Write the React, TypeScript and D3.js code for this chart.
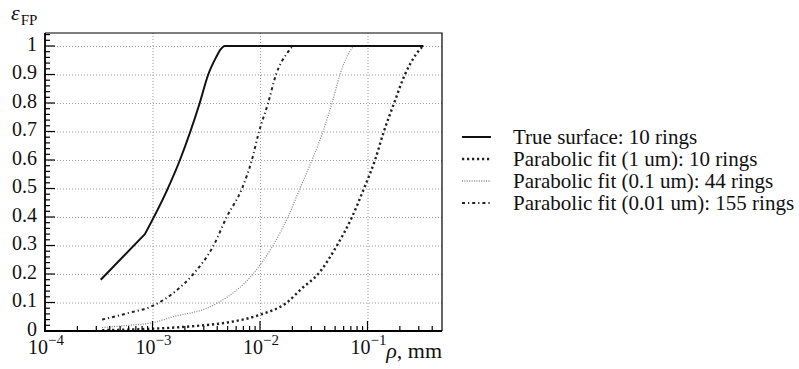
import { useEffect, useRef } from "react";
import * as d3 from "d3";

const WIDTH = 799;
const HEIGHT = 369;
const PLOT = { left: 45, right: 442, top: 33, bottom: 331 };
const FONT = "'Liberation Serif', 'Times New Roman', serif";

const Y_TICKS = [0, 0.1, 0.2, 0.3, 0.4, 0.5, 0.6, 0.7, 0.8, 0.9, 1];
const Y_TICK_LABELS = ["0", "0.1", "0.2", "0.3", "0.4", "0.5", "0.6", "0.7", "0.8", "0.9", "1"];
const X_DECADES = [1e-4, 1e-3, 1e-2, 1e-1];
const X_DECADE_EXP = ["−4", "−3", "−2", "−1"];

// True surface: 10 rings
const trueRho = [3.3e-4, 8.5e-4, 1.35e-3, 1.8e-3, 2.25e-3, 2.75e-3, 3.3e-3, 3.9e-3, 4.3e-3, 4.7e-3, 0.33];
const trueEps = [0.18, 0.34, 0.49, 0.6, 0.7, 0.8, 0.9, 0.96, 0.988, 1, 1];

// Parabolic fit (1 um): 10 rings
const fit1Rho = [3.4e-4, 1e-3, 2.77e-3, 5e-3, 1e-2, 1.78e-2, 2.46e-2, 3.47e-2, 5.2e-2, 7.18e-2, 9.27e-2, 0.1175, 0.142, 0.177, 0.223, 0.282, 0.328];
const fit1Eps = [0.003, 0.008, 0.019, 0.03, 0.057, 0.1, 0.15, 0.2, 0.3, 0.4, 0.5, 0.6, 0.7, 0.8, 0.9, 0.97, 1];

// Parabolic fit (0.1 um): 44 rings
const fit01Rho = [3.4e-4, 6e-4, 1e-3, 1.55e-3, 3.2e-3, 4.1e-3, 8.6e-3, 1.32e-2, 1.82e-2, 2.35e-2, 3.05e-2, 3.85e-2, 4.68e-2, 5.55e-2, 6.6e-2, 7.66e-2, 0.33];
const fit01Eps = [0.012, 0.02, 0.029, 0.05, 0.08, 0.1, 0.2, 0.3, 0.4, 0.5, 0.6, 0.7, 0.8, 0.9, 0.97, 1, 1];

// Parabolic fit (0.01 um): 155 rings
const fit001Rho = [3.4e-4, 5.8e-4, 1e-3, 1.62e-3, 2.4e-3, 3.7e-3, 4.9e-3, 6.8e-3, 8.4e-3, 9.8e-3, 1.19e-2, 1.41e-2, 1.75e-2, 2.1e-2, 0.33];
const fit001Eps = [0.04, 0.062, 0.088, 0.138, 0.2, 0.3, 0.4, 0.5, 0.6, 0.7, 0.8, 0.9, 0.97, 1, 1];

type Series = {
  label: string;
  rho: number[];
  eps: number[];
  stroke: string;
  width: number;
  dash: string | null;
  kink: number; // points up to this index are joined straight
};

const SERIES: Series[] = [
  { label: "Parabolic fit (0.1 um): 44 rings", rho: fit01Rho, eps: fit01Eps, stroke: "#8a8a8a", width: 1.3, dash: "1 1.4", kink: 0 },
  { label: "Parabolic fit (0.01 um): 155 rings", rho: fit001Rho, eps: fit001Eps, stroke: "#222", width: 2, dash: "3 3 1.2 3", kink: 0 },
  { label: "Parabolic fit (1 um): 10 rings", rho: fit1Rho, eps: fit1Eps, stroke: "#222", width: 2.4, dash: "2.2 2.8", kink: 0 },
  { label: "True surface: 10 rings", rho: trueRho, eps: trueEps, stroke: "#111", width: 2, dash: null, kink: 1 },
];
const LEGEND_ORDER = [3, 2, 0, 1];

export default function App() {
  const svgRef = useRef<SVGSVGElement | null>(null);

  useEffect(() => {
    const svgEl = svgRef.current;
    if (!svgEl) return;
    const svg = d3.select(svgEl);
    svg.selectAll("*").remove();

    const x = d3.scaleLog().domain([1e-4, Math.pow(10, -0.307)]).range([PLOT.left, PLOT.right]);
    const y = d3.scaleLinear().domain([0, 1]).range([PLOT.bottom, 46]);

    svg.append("rect").attr("width", WIDTH).attr("height", HEIGHT).attr("fill", "#fff");

    // grid
    const gGrid = svg.append("g").attr("stroke", "#9a9a9a").attr("stroke-width", 1).attr("stroke-dasharray", "1 2");
    gGrid
      .selectAll("line.gy")
      .data(Y_TICKS.filter((d) => d > 0))
      .join("line")
      .attr("x1", PLOT.left)
      .attr("x2", PLOT.right)
      .attr("y1", (d) => y(d) + 0.5)
      .attr("y2", (d) => y(d) + 0.5);
    gGrid
      .selectAll("line.gx")
      .data(X_DECADES.slice(1))
      .join("line")
      .attr("x1", (d) => x(d) + 0.5)
      .attr("x2", (d) => x(d) + 0.5)
      .attr("y1", PLOT.top)
      .attr("y2", PLOT.bottom);

    // curves
    const smooth = d3
      .line<[number, number]>()
      .x((d) => x(d[0]))
      .y((d) => y(d[1]))
      .curve(d3.curveMonotoneX);
    const straight = d3
      .line<[number, number]>()
      .x((d) => x(d[0]))
      .y((d) => y(d[1]));
    const gLines = svg.append("g").attr("fill", "none");
    SERIES.forEach((s) => {
      const pts = s.rho.map((r, i) => [r, s.eps[i]] as [number, number]);
      const head = s.kink > 0 ? straight(pts.slice(0, s.kink + 1)) ?? "" : "";
      const tail = smooth(pts.slice(s.kink)) ?? "";
      const d = head ? head + "L" + tail.slice(1) : tail;
      gLines
        .append("path")
        .attr("d", d)
        .attr("stroke", s.stroke)
        .attr("stroke-width", s.width)
        .attr("stroke-linejoin", "round")
        .attr("stroke-dasharray", s.dash ?? null);
    });

    // ticks
    const gTicks = svg.append("g").attr("stroke", "#000").attr("stroke-width", 1.2);
    const yMinor = d3.range(0, 1.05, 0.02).filter((v) => y(v) >= PLOT.top);
    gTicks
      .selectAll("line.ym")
      .data(yMinor)
      .join("line")
      .attr("x1", PLOT.left)
      .attr("x2", (d) => PLOT.left + (Math.abs(d * 10 - Math.round(d * 10)) < 1e-6 ? 10 : 5))
      .attr("y1", (d) => y(d))
      .attr("y2", (d) => y(d));
    const xMinor: number[] = [];
    X_DECADES.forEach((dec) => {
      for (let k = 2; k <= 9; k++) {
        if (dec * k <= x.domain()[1]) xMinor.push(dec * k);
      }
    });
    gTicks
      .selectAll("line.xm")
      .data(xMinor)
      .join("line")
      .attr("x1", (d) => x(d))
      .attr("x2", (d) => x(d))
      .attr("y1", PLOT.bottom)
      .attr("y2", PLOT.bottom - 5);
    gTicks
      .selectAll("line.xM")
      .data(X_DECADES)
      .join("line")
      .attr("x1", (d) => x(d))
      .attr("x2", (d) => x(d))
      .attr("y1", PLOT.bottom)
      .attr("y2", PLOT.bottom - 10);

    // frame
    svg
      .append("path")
      .attr("d", `M${PLOT.left},${PLOT.top}H${PLOT.right}V${PLOT.bottom}`)
      .attr("fill", "none")
      .attr("stroke", "#000")
      .attr("stroke-width", 1.2);
    svg
      .append("path")
      .attr("d", `M${PLOT.left},${PLOT.top}V${PLOT.bottom}H${PLOT.right}`)
      .attr("fill", "none")
      .attr("stroke", "#000")
      .attr("stroke-width", 1.8);

    // y tick labels
    svg
      .append("g")
      .selectAll("text")
      .data(Y_TICKS)
      .join("text")
      .attr("x", 37)
      .attr("y", (d) => y(d) + 4.5)
      .attr("text-anchor", "end")
      .attr("font-family", FONT)
      .attr("font-size", 20)
      .attr("fill", "#111")
      .text((_, i) => Y_TICK_LABELS[i]);

    // x tick labels
    const gx = svg.append("g").attr("font-family", FONT).attr("fill", "#111");
    X_DECADES.forEach((dec, i) => {
      gx.append("text")
        .attr("x", x(dec) + 3)
        .attr("y", 354)
        .attr("text-anchor", "end")
        .attr("font-size", 20)
        .text("10");
      gx.append("text")
        .attr("x", x(dec) + 3)
        .attr("y", 345)
        .attr("font-size", 15)
        .text(X_DECADE_EXP[i]);
    });

    // axis titles
    const yt = svg.append("text").attr("x", 11).attr("y", 20).attr("font-family", FONT).attr("fill", "#111");
    yt.append("tspan").attr("font-style", "italic").attr("font-size", 22).text("ε");
    yt.append("tspan").attr("font-size", 15).attr("dy", 5).attr("dx", 1).text("FP");
    const xt = svg.append("text").attr("x", PLOT.right).attr("y", 358).attr("text-anchor", "end").attr("font-family", FONT).attr("fill", "#111").attr("font-size", 22);
    xt.append("tspan").attr("font-style", "italic").text("ρ");
    xt.append("tspan").text(", mm");

    // legend
    const gLeg = svg.append("g");
    LEGEND_ORDER.forEach((si, row) => {
      const s = SERIES[si];
      const mid = 137 + row * 22;
      gLeg
        .append("line")
        .attr("x1", 462)
        .attr("x2", 491)
        .attr("y1", mid)
        .attr("y2", mid)
        .attr("stroke", s.stroke)
        .attr("stroke-width", s.width)
        .attr("stroke-dasharray", s.dash ?? null);
      gLeg
        .append("text")
        .attr("x", 513)
        .attr("y", mid + 6.5)
        .attr("font-family", FONT)
        .attr("font-size", 21)
        .attr("fill", "#111")
        .text(s.label);
    });
  }, []);

  return (
    <svg
      ref={svgRef}
      width={WIDTH}
      height={HEIGHT}
      viewBox={`0 0 ${WIDTH} ${HEIGHT}`}
      style={{ position: "absolute", left: 0, top: 0 }}
    />
  );
}
